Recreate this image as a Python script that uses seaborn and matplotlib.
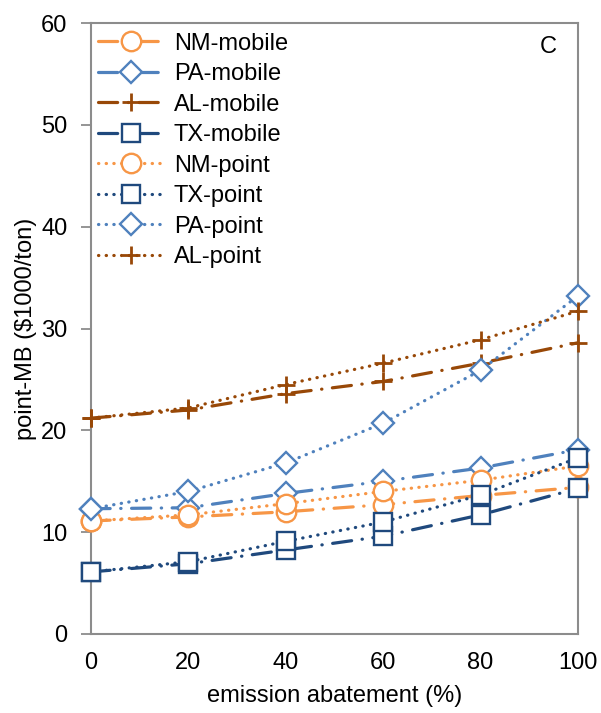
import matplotlib
matplotlib.use("Agg")
import matplotlib.pyplot as plt
import seaborn as sns
import numpy as np

# ---- data ----
abatement = [0, 20, 40, 60, 80, 100]
series_names = ["NM-mobile", "PA-mobile", "AL-mobile", "TX-mobile",
                "NM-point", "TX-point", "PA-point", "AL-point"]
nm_mobile = [11.1, 11.5, 12.0, 12.7, 13.6, 14.4]
pa_mobile = [12.3, 12.4, 13.8, 15.0, 16.3, 18.1]
al_mobile = [21.2, 22.0, 23.6, 24.8, 26.6, 28.6]
tx_mobile = [6.1, 6.9, 8.25, 9.6, 11.7, 14.3]
nm_point = [11.1, 11.7, 12.8, 14.0, 15.1, 16.5]
tx_point = [6.1, 7.1, 9.1, 11.0, 13.65, 17.3]
pa_point = [12.3, 14.0, 16.8, 20.7, 25.9, 33.2]
al_point = [21.2, 22.2, 24.5, 26.6, 28.9, 31.7]
y_ticks = [0, 10, 20, 30, 40, 50, 60]
x_ticks = [0, 20, 40, 60, 80, 100]

values = {"NM-mobile": nm_mobile, "PA-mobile": pa_mobile, "AL-mobile": al_mobile,
          "TX-mobile": tx_mobile, "NM-point": nm_point, "TX-point": tx_point,
          "PA-point": pa_point, "AL-point": al_point}

# ---- style ----
NM = "#F79646"; PA = "#4F81BD"; AL = "#984807"; TX = "#1F497D"
dashdot = (0, (6, 3.3, 0.1, 3.3))
dotted = (0, (0.1, 2.3))
styles = {
    "NM-mobile": dict(color=NM, marker="o", ms=14, ls=dashdot),
    "PA-mobile": dict(color=PA, marker="D", ms=11.5, ls=dashdot),
    "AL-mobile": dict(color=AL, marker="+", ms=13, ls=dashdot),
    "TX-mobile": dict(color=TX, marker="s", ms=12.5, ls=dashdot),
    "NM-point": dict(color=NM, marker="o", ms=14, ls=dotted),
    "TX-point": dict(color=TX, marker="s", ms=12.5, ls=dotted),
    "PA-point": dict(color=PA, marker="D", ms=11.5, ls=dotted),
    "AL-point": dict(color=AL, marker="+", ms=13, ls=dotted),
}

sns.set_style("white")
plt.rcParams["font.family"] = ["Liberation Sans", "DejaVu Sans"]
plt.rcParams["text.color"] = "black"
plt.rcParams["axes.labelcolor"] = "black"
plt.rcParams["xtick.labelcolor"] = "black"
plt.rcParams["ytick.labelcolor"] = "black"

FS = 17

fig = plt.figure(figsize=(6.01, 7.13), dpi=100)
ax = fig.add_axes([91/601, 1-634/713, (578-91)/601, (634-23)/713])

for name in series_names:
    st = styles[name]
    mew = 2.0 if st["marker"] == "+" else 1.7
    sns.lineplot(x=abatement, y=values[name], ax=ax, label=name,
                 color=st["color"], linestyle=st["ls"], linewidth=2.3,
                 dash_capstyle="round", marker=st["marker"],
                 markersize=st["ms"], markerfacecolor="white",
                 markeredgecolor=st["color"], markeredgewidth=mew,
                 clip_on=False, zorder=3)

ax.set_xlim(0, 100)
ax.set_ylim(0, 60)
ax.set_xticks(x_ticks)
ax.set_yticks(y_ticks)
ax.tick_params(axis="y", length=7, width=1.3, color="#8c8c8c", pad=10,
               labelsize=FS, direction="out", left=True)
ax.tick_params(axis="x", length=0, pad=13, labelsize=FS)
for sp in ax.spines.values():
    sp.set_color("#8c8c8c")
    sp.set_linewidth(1.5)
    sp.set_visible(True)

ax.set_xlabel("emission abatement (%)", fontsize=FS, labelpad=8)
ax.set_ylabel("point-MB (\\$1000/ton)", fontsize=FS, labelpad=3)
ax.text(0.938, 0.961, "C", transform=ax.transAxes, fontsize=FS,
        ha="center", va="center")

ax.legend(loc="upper left", bbox_to_anchor=(0.0, 0.996), frameon=False,
          fontsize=FS, handlelength=2.75, handletextpad=0.45,
          labelspacing=0.36, borderpad=0.1, borderaxespad=0.2, numpoints=1)

fig.savefig("out.png", dpi=100)
